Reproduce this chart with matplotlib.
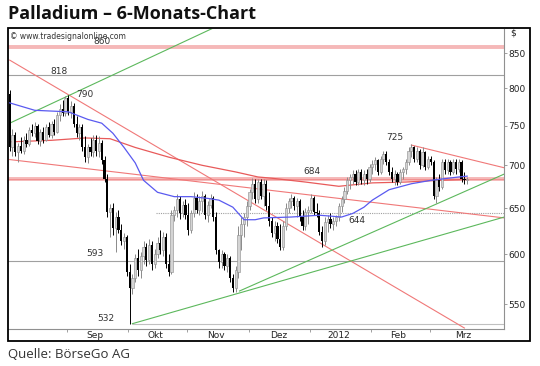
import matplotlib
matplotlib.use("Agg")
import matplotlib.pyplot as plt
import matplotlib.ticker as mtick
from matplotlib.patches import Rectangle

# daily bars, index 0 = early August 2011
opens = [792, 722, 738, 716, 724, 718, 732, 726, 744, 740,
         750, 730, 742, 732, 748, 738, 752, 742, 764, 772,
         766, 786, 768, 776, 752, 740, 748, 722, 710, 722,
         716, 732, 718, 728, 706, 684, 646, 650, 628, 640,
         626, 614, 618, 582, 566, 576, 596, 584, 598, 608,
         594, 610, 590, 600, 612, 604, 618, 590, 582, 642,
         648, 660, 644, 654, 642, 626, 644, 662, 648, 658,
         664, 642, 654, 662, 640, 604, 592, 600, 588, 596,
         576, 566, 582, 620, 632, 640, 652, 668, 678, 660,
         680, 664, 678, 652, 636, 622, 630, 616, 608, 630,
         650, 658, 662, 652, 658, 640, 630, 646, 648, 662,
         646, 644, 624, 614, 634, 638, 632, 636, 640, 652,
         660, 670, 682, 686, 690, 680, 692, 682, 690, 684,
         698, 702, 706, 692, 708, 714, 704, 692, 684, 690,
         680, 692, 696, 704, 718, 722, 708, 718, 700, 716,
         698, 708, 704, 664, 682, 674, 704, 694, 704, 692,
         704, 696, 704, 684, 682]
highs = [797, 745, 742, 728, 735, 736, 740, 748, 752, 755,
         752, 746, 748, 752, 754, 756, 758, 768, 778, 784,
         790, 791, 782, 780, 762, 752, 752, 736, 726, 734,
         738, 738, 736, 732, 712, 690, 655, 656, 646, 648,
         632, 622, 620, 590, 580, 600, 605, 602, 614, 612,
         616, 614, 606, 618, 626, 624, 622, 600, 648, 652,
         666, 664, 658, 660, 656, 648, 668, 666, 664, 670,
         666, 658, 666, 664, 646, 606, 604, 602, 600, 598,
         580, 588, 630, 640, 645, 658, 672, 685, 684, 684,
         684, 684, 682, 668, 640, 636, 634, 632, 636, 656,
         662, 666, 664, 662, 660, 648, 650, 652, 666, 664,
         656, 648, 630, 640, 642, 644, 640, 642, 656, 664,
         674, 686, 690, 694, 694, 696, 696, 694, 696, 702,
         706, 710, 708, 712, 718, 718, 708, 698, 694, 692,
         696, 698, 708, 722, 726, 724, 722, 720, 722, 718,
         712, 712, 706, 686, 690, 708, 708, 708, 706, 708,
         708, 708, 706, 692, 686]
lows = [718, 712, 712, 704, 715, 714, 722, 724, 736, 735,
        726, 724, 728, 730, 735, 734, 738, 740, 756, 762,
        762, 764, 760, 748, 735, 732, 718, 704, 703, 712,
        710, 712, 710, 702, 680, 640, 618, 620, 602, 622,
        610, 606, 578, 532, 560, 572, 578, 576, 590, 588,
        590, 584, 586, 596, 600, 598, 586, 578, 580, 636,
        640, 638, 640, 638, 620, 622, 640, 644, 642, 646,
        638, 634, 650, 636, 600, 586, 586, 584, 582, 572,
        562, 562, 576, 604, 618, 630, 648, 660, 656, 656,
        660, 652, 648, 630, 618, 614, 612, 604, 604, 626,
        644, 650, 648, 640, 636, 626, 626, 632, 644, 642,
        640, 620, 608, 610, 624, 628, 626, 630, 636, 646,
        656, 666, 672, 678, 676, 676, 678, 676, 678, 680,
        690, 694, 688, 690, 702, 700, 688, 680, 676, 676,
        678, 684, 690, 700, 710, 704, 704, 696, 698, 694,
        696, 700, 660, 656, 670, 672, 690, 690, 688, 690,
        690, 692, 680, 678, 678]
closes = [722, 738, 716, 724, 718, 732, 726, 744, 740, 750,
          730, 742, 732, 748, 738, 752, 742, 764, 772, 766,
          786, 768, 776, 752, 740, 748, 722, 710, 722, 716,
          732, 718, 728, 706, 684, 646, 650, 628, 640, 626,
          614, 618, 582, 566, 576, 596, 584, 598, 608, 594,
          610, 590, 600, 612, 604, 618, 590, 582, 642, 648,
          660, 644, 654, 642, 626, 644, 662, 648, 658, 664,
          642, 654, 662, 640, 604, 592, 600, 588, 596, 576,
          566, 584, 620, 632, 640, 652, 668, 678, 660, 680,
          664, 678, 652, 636, 622, 630, 616, 608, 630, 650,
          658, 662, 652, 658, 640, 630, 646, 648, 662, 646,
          644, 624, 614, 634, 638, 632, 636, 640, 652, 660,
          670, 682, 686, 690, 680, 692, 682, 690, 684, 698,
          702, 706, 692, 708, 714, 704, 692, 684, 690, 680,
          692, 696, 704, 718, 722, 708, 718, 700, 716, 698,
          708, 704, 664, 682, 674, 704, 694, 704, 692, 704,
          696, 704, 684, 682, 684]

# moving averages (bar index, price)
blue_idx = [0, 9, 21, 28, 33, 37, 41, 45, 48, 53, 59, 65, 71, 75, 80,
            84, 88, 91, 101, 111, 119, 123, 127, 130, 136, 144, 151, 156, 161, 164]
blue_val = [780, 770, 768, 758, 753, 740, 722, 703, 682, 668, 663, 663, 661, 659, 651,
            637, 637, 639, 640, 642, 640, 644, 651, 659, 671, 678, 682, 684, 686, 687]
red_idx = [0, 15, 27, 36, 45, 57, 69, 81, 89, 94, 106, 118, 130, 142, 154, 164]
red_val = [729, 731, 734, 733, 722, 710, 700, 692, 686, 684.5, 680, 675, 679, 680, 682, 683]

# trend lines: (x0, p0, x1, p1)
red_trends = [(0, 840, 163, 528), (0, 707, 177.3, 639), (144, 725, 177.3, 697)]
green_trends = [(0, 753, 86.7, 916), (82.4, 563, 177.3, 689.5), (44, 532, 177.3, 640)]

month_ticks = [20.5, 42.3, 63.4, 85.7, 107.5, 129.4, 150.5]
month_pos = [30.5, 52.3, 73.8, 96.4, 117.9, 139.4, 162.7]
month_labels = ["Sep", "Okt", "Nov", "Dez", "2012", "Feb", "Mrz"]
price_ticks = [550, 600, 650, 700, 750, 800, 850]

W, H = 540, 366
fig = plt.figure(figsize=(W / 100, H / 100), dpi=100)
fig.patch.set_facecolor("white")

ax = fig.add_axes([8 / W, 1 - 329 / H, (504 - 8) / W, (329 - 28.5) / H])
ax.set_yscale("log")
ax.set_ylim(527.1, 887.3)
ax.set_xlim(-0.6, 177.2)

# horizontal marks
ax.axhline(860, color="#f5b8b8", lw=2.8, zorder=1)
ax.axhline(684, color="#f5b8b8", lw=2.8, zorder=1)
ax.axhline(684, color="#f08080", lw=0.5, zorder=1)
ax.axhline(818, color="#a0a0a0", lw=0.8, zorder=1)
ax.axhline(593, color="#a0a0a0", lw=0.8, zorder=1)
ax.hlines(644, 52.3, 177.2, color="#a0a0a0", lw=0.8, ls=(0, (1, 1)), zorder=1)
ax.hlines(532, 44, 177.2, color="#c0c0c0", lw=0.8, zorder=1)

for x0, p0, x1, p1 in red_trends:
    ax.plot([x0, x1], [p0, p1], color="#f07878", lw=0.8, zorder=2)
for x0, p0, x1, p1 in green_trends:
    ax.plot([x0, x1], [p0, p1], color="#5cb85c", lw=0.8, zorder=2)

ax.plot(red_idx, red_val, color="#e85a5a", lw=0.9, zorder=2)
ax.plot(blue_idx, blue_val, color="#5a5af0", lw=0.9, zorder=4)

# candles
for i, (o, h, l, c) in enumerate(zip(opens, highs, lows, closes)):
    if c < o:
        ax.vlines(i, l, h, color="black", lw=0.7, zorder=3)
        ax.bar(i, o - c, bottom=c, width=0.8, color="black", lw=0, zorder=3)
    else:
        ax.vlines(i, l, h, color="#8a8a8a", lw=0.7, zorder=3)
        ax.bar(i, max(c - o, 0.5), bottom=o, width=0.8, color="#d4d4d4",
               edgecolor="#8a8a8a", lw=0.4, zorder=3)

# level labels
lab = dict(fontsize=6.5, color="#333333", ha="center", va="center", zorder=5)
ax.text(33, 868, "860", **lab)
ax.text(17.6, 822.9, "818", **lab)
ax.text(26.8, 792, "790", **lab)
ax.text(30.6, 601, "593", **lab)
ax.text(34.4, 536.4, "532", **lab)
ax.text(108.2, 692, "684", **lab)
ax.text(138, 734, "725", **lab)
ax.text(124.4, 636, "644", **lab)
ax.text(0.005, 0.988, "\u00a9 www.tradesignalonline.com", transform=ax.transAxes,
        fontsize=5.5, color="#333333", ha="left", va="top")

# axes styling
for side in ["left", "top"]:
    ax.spines[side].set_visible(False)
for side in ["right", "bottom"]:
    ax.spines[side].set_color("#909090")
    ax.spines[side].set_linewidth(0.8)

ax.yaxis.tick_right()
ax.yaxis.set_major_locator(mtick.FixedLocator(price_ticks))
ax.yaxis.set_major_formatter(mtick.FixedFormatter([str(p) for p in price_ticks]))
ax.yaxis.set_minor_locator(mtick.NullLocator())
ax.tick_params(axis="y", direction="out", length=2, width=0.6, color="#909090",
               labelsize=6.5, pad=1, labelcolor="#222222")

ax.xaxis.set_major_locator(mtick.FixedLocator(month_ticks))
ax.xaxis.set_major_formatter(mtick.NullFormatter())
ax.xaxis.set_minor_locator(mtick.FixedLocator(month_pos))
ax.xaxis.set_minor_formatter(mtick.FixedFormatter(month_labels))
ax.tick_params(axis="x", which="major", direction="out", length=2, width=0.6, color="#909090")
ax.tick_params(axis="x", which="minor", length=0, labelsize=6.5, pad=1.5, labelcolor="#222222")

fig.text(510 / W, 1 - 33 / H, "$", fontsize=6.5, color="#222222", ha="left", va="center")

# outer frame
fig.add_artist(Rectangle((7.5 / W, 1 - 341 / H), (530 - 7.5) / W, (341 - 28) / H,
                         fill=False, lw=1.3, ec="black", transform=fig.transFigure))

fig.text(8 / W, 1 - 14 / H, "Palladium \u2013 6-Monats-Chart", fontsize=13,
         fontweight="bold", family="Open Sans", ha="left", va="center", color="#111111")
fig.text(8 / W, 1 - 354 / H, "Quelle: B\u00f6rseGo AG", fontsize=9.5,
         family="Open Sans", ha="left", va="center", color="#333333")

fig.savefig("out.png", dpi=100)
